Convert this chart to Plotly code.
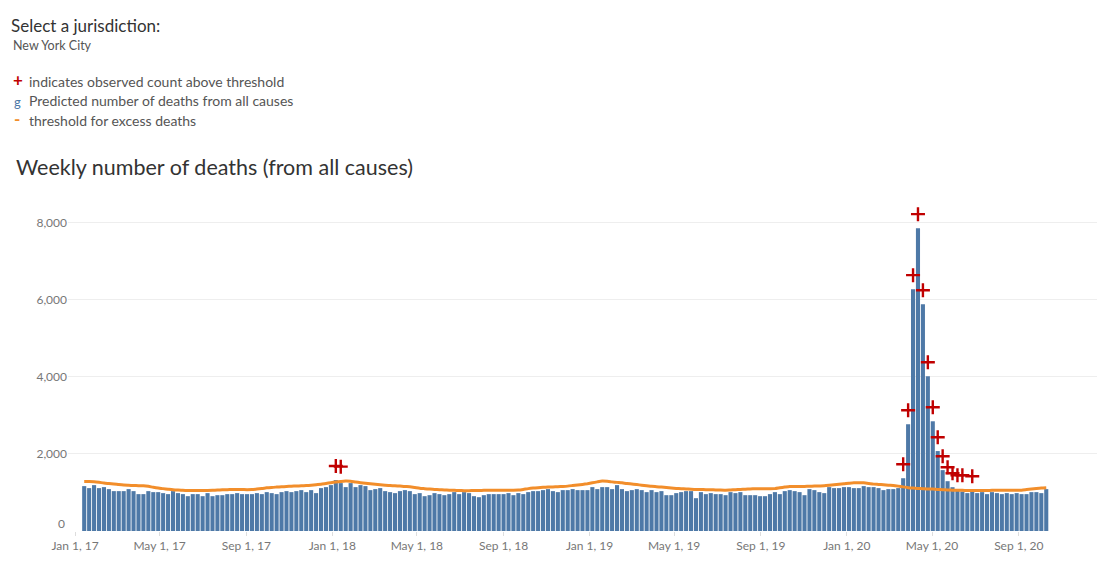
import plotly.graph_objects as go
import pandas as pd

# weekly deaths (all causes), New York City, weeks ending 2017-01-14 .. 2020-10-10
first_week = "2017-01-14"
deaths = [
    1165, 1113, 1191, 1113, 1139, 1087, 1035, 1035, 1035, 1087,
    1035, 957, 957, 1035, 1009, 1009, 983, 957, 1035, 983,
    957, 904, 957, 957, 904, 983, 904, 930, 930, 957,
    957, 983, 957, 957, 957, 983, 957, 1009, 983, 957,
    1009, 1035, 1009, 1035, 1061, 1009, 1061, 983, 1113, 1139,
    1191, 1322, 1243, 1139, 1243, 1139, 1191, 1165, 1061, 1087,
    1113, 1035, 1009, 983, 1035, 1061, 1035, 957, 983, 904,
    930, 983, 957, 930, 957, 1009, 957, 1009, 983, 904,
    878, 930, 957, 957, 957, 957, 983, 930, 983, 957,
    1009, 1035, 1035, 1061, 1087, 1035, 1009, 1061, 1061, 1087,
    1061, 1061, 1061, 1139, 1087, 1139, 1139, 1087, 1191, 1087,
    1035, 1061, 1087, 1061, 1009, 1061, 1009, 1035, 930, 930,
    983, 1009, 1035, 1035, 852, 1009, 957, 983, 957, 957,
    930, 1009, 983, 1009, 930, 930, 930, 904, 904, 957,
    1009, 957, 1035, 1061, 1035, 1009, 930, 1087, 1061, 1009,
    983, 1139, 1113, 1113, 1139, 1139, 1113, 1113, 1165, 1139,
    1139, 1113, 1061, 1087, 1087, 1113, 1370, 2771, 6277, 7861,
    5887, 4017, 2848, 2075, 1580, 1293, 1137, 1050, 1025, 983,
    1035, 983, 1009, 957, 1009, 983, 957, 983, 957, 983,
    957, 957, 1009, 1009, 983, 1087,
]

threshold = [
    1285, 1285, 1280, 1265, 1245, 1232, 1220, 1205, 1192, 1185,
    1180, 1177, 1174, 1160, 1135, 1115, 1100, 1085, 1070, 1062,
    1056, 1053, 1052, 1052, 1052, 1052, 1056, 1062, 1070, 1074,
    1077, 1078, 1076, 1072, 1075, 1088, 1102, 1120, 1132, 1140,
    1148, 1155, 1162, 1168, 1174, 1180, 1190, 1203, 1215, 1235,
    1255, 1270, 1285, 1296, 1290, 1270, 1255, 1240, 1225, 1212,
    1200, 1190, 1180, 1174, 1165, 1155, 1148, 1130, 1110, 1098,
    1088, 1078, 1072, 1066, 1060, 1055, 1050, 1048, 1048, 1050,
    1052, 1055, 1058, 1060, 1061, 1061, 1061, 1061, 1065, 1080,
    1100, 1115, 1125, 1133, 1139, 1145, 1150, 1156, 1165, 1180,
    1195, 1210, 1228, 1250, 1275, 1296, 1290, 1275, 1262, 1250,
    1232, 1220, 1205, 1190, 1175, 1160, 1150, 1140, 1128, 1115,
    1105, 1098, 1092, 1086, 1080, 1078, 1074, 1070, 1066, 1062,
    1061, 1066, 1072, 1078, 1085, 1092, 1096, 1096, 1096, 1096,
    1100, 1120, 1140, 1157, 1157, 1157, 1158, 1160, 1165, 1170,
    1174, 1185, 1198, 1212, 1225, 1240, 1252, 1252, 1250, 1235,
    1217, 1210, 1200, 1190, 1183, 1165, 1145, 1125, 1113, 1105,
    1098, 1090, 1087, 1080, 1073, 1066, 1061, 1058, 1055, 1052,
    1052, 1052, 1052, 1052, 1055, 1058, 1061, 1061, 1061, 1061,
    1061, 1075, 1090, 1105, 1118, 1125,
]

# weeks where the observed count is above the threshold (+ markers)
above_weeks = [
    "2018-01-06", "2018-01-13",
    "2020-03-21", "2020-03-28", "2020-04-04", "2020-04-11", "2020-04-18",
    "2020-04-25", "2020-05-02", "2020-05-09", "2020-05-16", "2020-05-23",
    "2020-05-30", "2020-06-06", "2020-06-13", "2020-06-27",
]
above_marks = [
    1687, 1670,
    1732, 3134, 6641, 8225, 6251,
    4381, 3212, 2433, 1939, 1654,
    1498, 1446, 1446, 1420,
]

y_ticks = [2000, 4000, 6000, 8000]

weeks = pd.date_range(first_week, periods=len(deaths), freq="7D")

BLUE = "#4e79a7"
ORANGE = "#f28e2b"
RED = "#c00000"
FONT = "Lato, 'Open Sans', sans-serif"

fig = go.Figure()
fig.add_trace(go.Bar(x=weeks, y=deaths, marker_color=BLUE, marker_line_width=0))
fig.add_trace(
    go.Scatter(
        x=weeks,
        y=threshold,
        mode="lines",
        line=dict(color=ORANGE, width=3, shape="spline", smoothing=0.6),
    )
)
fig.add_trace(
    go.Scatter(
        x=pd.to_datetime(above_weeks),
        y=above_marks,
        mode="markers",
        marker=dict(symbol="cross-thin", size=10, line=dict(color=RED, width=2.4)),
    )
)

# the page puts the figure 8px in from the top left corner
OFF = 8
FW, FH = 1109 - OFF, 572 - OFF
L, R, T, B = 60, 12, 192, 41
PW, PH = FW - L - R, FH - T - B


def at(px, py):
    # page pixel -> paper coords
    return (px - OFF - L) / PW, (FH - B - (py - OFF)) / PH


def label(px, py, text, size, color, anchor="left"):
    x, y = at(px, py)
    fig.add_annotation(
        x=x, y=y, xref="paper", yref="paper", text=text, showarrow=False,
        xanchor=anchor, yanchor="middle",
        font=dict(family=FONT, size=size, color=color),
    )


label(9, 25, "Select a jurisdiction:", 17, "#333333")
label(11, 45, "New York City", 12.5, "#555555")
label(11, 80, "<b>+</b>", 17, RED)
label(27, 81, "indicates observed count above threshold", 14, "#555555")
label(12, 102, "g", 13, BLUE)
label(27, 101, "Predicted number of deaths from all causes", 14, "#555555")
label(12, 119, "<b>-</b>", 17, ORANGE)
label(27, 120, "threshold for excess deaths", 14, "#555555")
label(14, 167, "Weekly number of deaths (from all causes)", 21.5, "#333333")
# Tableau draws the zero label a little above the baseline
label(67, 523, "0", 12, "#777777", anchor="right")

fig.update_layout(
    width=FW,
    height=FH,
    margin=dict(l=L, r=R, t=T, b=B),
    plot_bgcolor="white",
    paper_bgcolor="white",
    showlegend=False,
    bargap=0.17,
    font=dict(family=FONT, color="#777777"),
    xaxis=dict(
        range=["2016-12-22", "2020-12-21"],
        tick0="2017-01-01",
        dtick="M4",
        tickformat="%b %-d, %y",
        ticks="outside",
        ticklen=4,
        tickcolor="#dddddd",
        showgrid=False,
        zeroline=False,
        tickfont=dict(size=12, color="#777777"),
    ),
    yaxis=dict(
        range=[0, 8592],
        tickvals=y_ticks,
        tickformat=",d",
        gridcolor="#eeeeee",
        zeroline=False,
        tickfont=dict(size=12, color="#777777"),
        ticklabelstandoff=0,
    ),
)

fig.write_html("out.html")
